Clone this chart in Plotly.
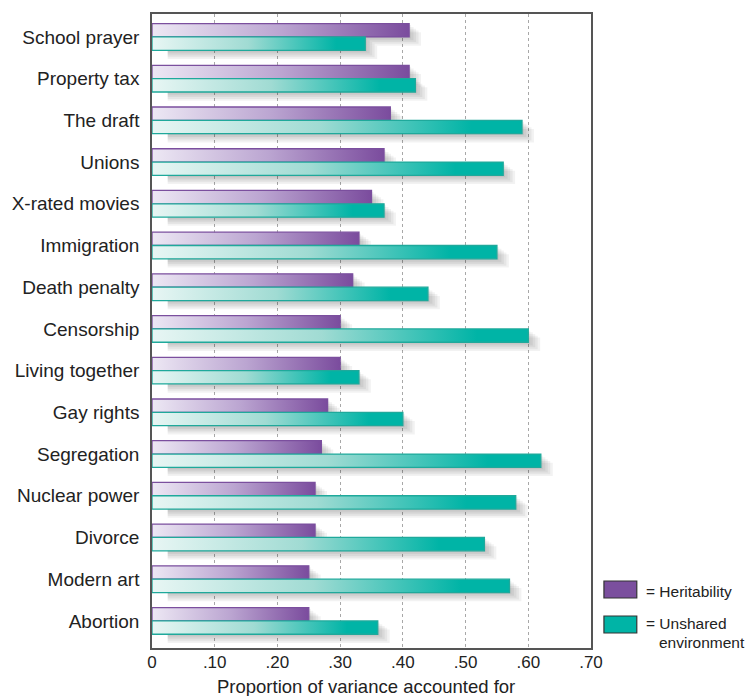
import plotly.graph_objects as go

categories = ["School prayer", "Property tax", "The draft", "Unions", "X-rated movies",
              "Immigration", "Death penalty", "Censorship", "Living together", "Gay rights",
              "Segregation", "Nuclear power", "Divorce", "Modern art", "Abortion"]
heritability = [0.41, 0.41, 0.38, 0.37, 0.35, 0.33, 0.32, 0.30, 0.30, 0.28, 0.27, 0.26, 0.26, 0.25, 0.25]
unshared = [0.34, 0.42, 0.59, 0.56, 0.37, 0.55, 0.44, 0.60, 0.33, 0.40, 0.62, 0.58, 0.53, 0.57, 0.36]
x_ticks = [0, 0.1, 0.2, 0.3, 0.4, 0.5, 0.6, 0.7]
x_tick_labels = ["0", ".10", ".20", ".30", ".40", ".50", ".60", ".70"]

FONT = "Liberation Sans, Arial, Helvetica, sans-serif"
H = 0.32  # half group height (each bar takes H)
PX_X = 0.7 / 441.0
PX_Y = 1 / 41.7

purple_scale = [[0, "#ede8f4"], [0.5, "#bba5d1"], [1, "#7a4b9d"]]
teal_scale = [[0, "#e8f6f4"], [0.45, "#a0dbd3"], [0.86, "#00b4a6"], [1, "#00b4a6"]]

fig = go.Figure()

ypos = [-i for i in range(len(categories))]

# shadows
for yc, h, u in zip(ypos, heritability, unshared):
    for (v, top, bot) in [(h, yc + H, yc), (u, yc, yc - H)]:
        for k in range(5):
            dx = (2 + 2.5 * k) * PX_X
            dy = (1.5 + 1.8 * k) * PX_Y
            x0, x1 = 0.025, v + dx
            y0, y1 = bot - dy, top - dy
            fig.add_trace(go.Scatter(
                x=[x0, x1, x1, x0, x0], y=[y0, y0, y1, y1, y0],
                mode="lines", fill="toself", line=dict(width=0),
                fillcolor="rgba(0,0,0,0.05)", hoverinfo="skip", showlegend=False))

# bars
for yc, h, u, name in zip(ypos, heritability, unshared, categories):
    fig.add_trace(go.Scatter(
        x=[0, h, h, 0, 0], y=[yc, yc, yc + H, yc + H, yc],
        mode="lines", fill="toself",
        fillgradient=dict(type="horizontal", colorscale=purple_scale, start=0, stop=h),
        line=dict(color="#7b4f9e", width=1.3),
        name="Heritability", hovertext=f"{name}: {h:.2f}", hoverinfo="text", showlegend=False))
    fig.add_trace(go.Scatter(
        x=[0, u, u, 0, 0], y=[yc - H, yc - H, yc, yc, yc - H],
        mode="lines", fill="toself",
        fillgradient=dict(type="horizontal", colorscale=teal_scale, start=0, stop=u),
        line=dict(color="#1fa99b", width=1.3),
        name="Unshared environment", hovertext=f"{name}: {u:.2f}", hoverinfo="text", showlegend=False))

# legend (manual)
def px_x(p):
    return (p - 150) / 441.0

def px_y(p):
    return (648 - p) / 634.0

shapes = [
    dict(type="rect", xref="paper", yref="paper", x0=px_x(604), x1=px_x(637), y0=px_y(598), y1=px_y(581),
         fillcolor="#7b4f9e", line=dict(color="#333", width=1.2)),
    dict(type="rect", xref="paper", yref="paper", x0=px_x(604), x1=px_x(637), y0=px_y(633), y1=px_y(616),
         fillcolor="#00b4a6", line=dict(color="#333", width=1.2)),
]
annotations = [
    dict(text="= Heritability", xref="paper", yref="paper", x=px_x(644), y=px_y(591),
         xanchor="left", yanchor="middle", showarrow=False, font=dict(size=15.5, color="#222", family=FONT)),
    dict(text="= Unshared", xref="paper", yref="paper", x=px_x(644), y=px_y(623),
         xanchor="left", yanchor="middle", showarrow=False, font=dict(size=15.5, color="#222", family=FONT)),
    dict(text="environment", xref="paper", yref="paper", x=px_x(657), y=px_y(642),
         xanchor="left", yanchor="middle", showarrow=False, font=dict(size=15.5, color="#222", family=FONT)),
    dict(text="Proportion of variance accounted for", xref="paper", yref="paper", x=px_x(365), y=px_y(686),
         xanchor="center", yanchor="middle", showarrow=False, font=dict(size=18.5, color="#222", family=FONT)),
]

fig.update_layout(
    width=745, height=696,
    margin=dict(l=150, r=154, t=14, b=48),
    paper_bgcolor="white", plot_bgcolor="white",
    font=dict(family=FONT, color="#222"),
    shapes=shapes, annotations=annotations,
    hovermode="closest",
)
fig.update_xaxes(
    range=[0, 0.7], tickvals=x_ticks, ticktext=x_tick_labels,
    tickfont=dict(size=17, color="#222", family=FONT),
    showgrid=True, gridcolor="#a8a8a8", griddash="dot", gridwidth=1,
    showline=True, mirror=True, linecolor="#555", linewidth=1.5,
    zeroline=False, ticks="", fixedrange=True, ticklabelstandoff=-2,
)
fig.update_yaxes(
    range=[-14.65, 0.55], tickvals=ypos, ticktext=categories,
    tickfont=dict(size=19, color="#222", family=FONT),
    showgrid=False, zeroline=False,
    showline=True, mirror=True, linecolor="#555", linewidth=1.5,
    ticks="", ticklabelstandoff=7, fixedrange=True,
)

fig.write_html("out.html")
